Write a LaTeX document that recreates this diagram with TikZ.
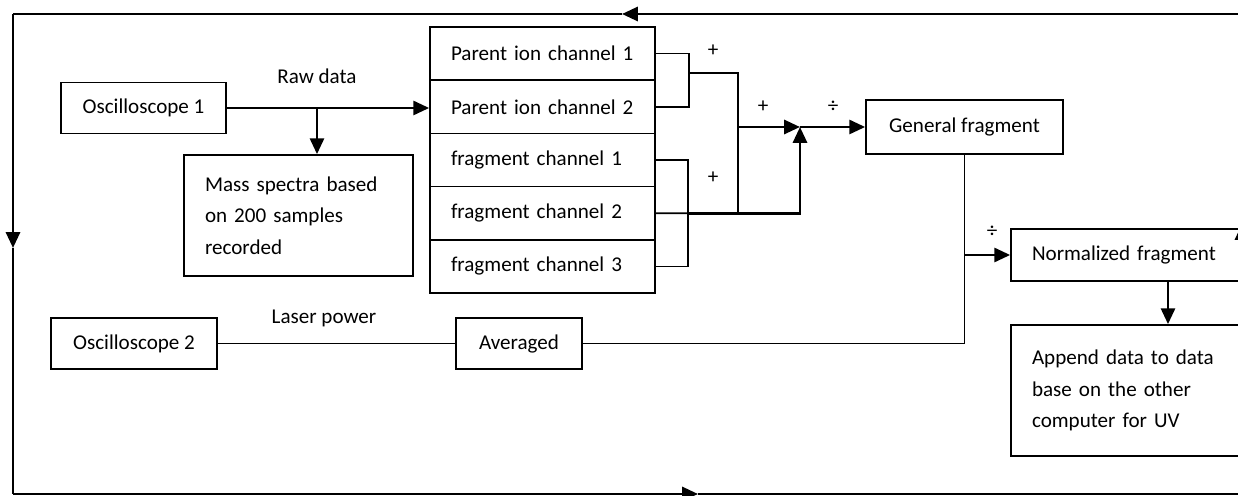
\documentclass[tikz,border=0pt]{standalone}
\usepackage{fontspec}
\setmainfont{Carlito}
\usetikzlibrary{arrows.meta, positioning, calc}

\begin{document}
\begin{tikzpicture}[x=0.02cm, y=-0.02cm, font=\fontsize{12}{18}\selectfont,
  box/.style={draw, line width=1pt, minimum height=1.02cm},
  leftbox/.style={box, align=left, inner xsep=0.42cm},
  arr/.style={line width=1.5pt, -{Triangle[length=9pt,width=8pt]}},
  link/.style={line width=1pt},
  backline/.style={line width=0.7pt}]

\useasboundingbox (0,0) rectangle (1238,496);
\clip (0,0) rectangle (1238,496);

% Mass spectrometer side
\node[box, minimum width=3.3cm] (osc1) at (143.5,108) {Oscilloscope 1};
\node[leftbox, text width=3.74cm, minimum height=2.42cm] (mass) at (298.5,215.5)
  {Mass spectra based\\on 200 samples\\recorded};
\node (rawlbl) at (317,76) {Raw data};

% Channels
\foreach \i/\txt in {1/Parent ion channel 1, 2/Parent ion channel 2,
                     3/fragment channel 1, 4/fragment channel 2, 5/fragment channel 3} {
    \node[leftbox, text width=3.66cm, minimum height=1.064cm] (ch\i) at (542.5,{0.4+53.2*\i}) {\txt};
}

% Results
\node[box, minimum width=3.94cm, minimum height=1.08cm] (gen) at (964.5,127) {General fragment};
\node[leftbox, text width=5.44cm, minimum height=1.04cm] (norm) at (1168,255) {Normalized fragment};
\node[leftbox, text width=5.44cm, minimum height=2.62cm] (app) at (1168,390.5)
  {Append data to data\\base on the other\\computer for UV};

% Laser side
\node[box, minimum width=3.32cm] (osc2) at (134,343.5) {Oscilloscope 2};
\node[box, minimum width=2.52cm] (avg) at (519,343.5) {Averaged};
\node (laslbl) at (324,318) {Laser power};

% Operators
\node (plusA) at (713,51) {+};
\node (plusB) at (763,107) {+};
\node (plusC) at (713,178) {+};
\node (divA) at (833,107) {÷};
\node (divB) at (992,232) {÷};

% Junctions
\coordinate (rawbr) at (317,108);
\coordinate (pj) at (689,73);
\coordinate (fj) at (688,213.2);
\coordinate (sx) at (738,127);
\coordinate (sum) at (800,127);

% Connectors
\draw[arr] (osc1.east) -- (osc1.east -| ch2.west);
\draw[arr] (rawbr) -- (rawbr |- mass.north);
\draw[link] (ch1.east) -| (pj) |- (ch2.east);
\draw[link] (pj) -| (sx) -- (sx |- fj);
\draw[link] (ch3.east) -| (fj) |- (ch5.east);
\draw[link] (ch4.east) -- (fj);
\draw[arr] (fj) -| (sum);
\draw[arr] (sx) -- (sum);
\draw[arr] (sum) -- (gen.west);
\draw[link] (osc2.east) -- (avg.west);
\draw[link] (avg.east) -| (gen.south);
\draw[arr] (gen.south |- norm.west) -- (norm.west);
\draw[arr] (norm.south) -- (app.north);

% Feedback loop
\coordinate (tr) at (1300,14);
\coordinate (ta) at (622,14);
\coordinate (tl) at (13,14);
\coordinate (la) at (13,248);
\coordinate (bl) at (13,494);
\coordinate (ba) at (698,494);
\coordinate (br) at (1300,494);
\coordinate (rb) at (1242,300);
\coordinate (rt) at (1242,224);
\draw[arr] (tr) -- (ta);
\draw[backline] (ta) -- (tl);
\draw[arr] (tl) -- (la);
\draw[backline] (la) -- (bl);
\draw[arr] (bl) -- (ba);
\draw[backline] (ba) -- (br);
\draw[arr] (rb) -- (rt);
\end{tikzpicture}
\end{document}
